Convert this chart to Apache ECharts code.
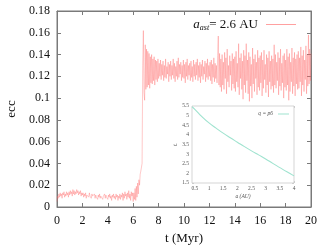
<!DOCTYPE html>
<html><head><meta charset="utf-8">
<script src="https://cdn.jsdelivr.net/npm/echarts@6/dist/echarts.min.js"></script>
<style>html,body{margin:0;padding:0;background:#fff}#c{width:332px;height:245px}</style>
</head><body><div id="c"></div>
<script>
// Main series: eccentricity sampled every 0.05 Myr from t = 0 to 20 Myr (one row per Myr)
const sampleStepMyr = 0.05;
const ecc = [
0.005,0.010,0.008,0.012,0.009,0.013,0.010,0.012,0.008,0.013,0.011,0.014,0.009,0.012,0.010,0.014,0.011,0.013,0.009,0.014,
0.011,0.015,0.012,0.014,0.010,0.016,0.012,0.015,0.011,0.014,0.012,0.016,0.013,0.015,0.011,0.014,0.012,0.015,0.010,0.013,
0.011,0.013,0.009,0.012,0.010,0.013,0.008,0.011,0.010,0.012,0.009,0.013,0.010,0.011,0.008,0.012,0.010,0.011,0.009,0.012,
0.008,0.011,0.009,0.010,0.007,0.011,0.009,0.012,0.008,0.010,0.009,0.011,0.007,0.010,0.009,0.012,0.008,0.011,0.009,0.010,
0.007,0.011,0.009,0.012,0.008,0.010,0.006,0.011,0.009,0.012,0.008,0.010,0.007,0.012,0.009,0.011,0.006,0.010,0.008,0.012,
0.007,0.011,0.009,0.013,0.006,0.012,0.008,0.014,0.010,0.012,0.007,0.013,0.009,0.015,0.008,0.012,0.006,0.014,0.010,0.013,
0.005,0.013,0.007,0.017,0.006,0.019,0.009,0.022,0.012,0.025,0.020,0.030,0.033,0.034,0.040,0.130,0.162,0.105,0.098,0.149,
0.108,0.145,0.110,0.143,0.112,0.141,0.109,0.138,0.114,0.140,0.113,0.136,0.116,0.138,0.112,0.135,0.117,0.134,0.115,0.136,
0.118,0.132,0.120,0.135,0.117,0.131,0.121,0.134,0.116,0.130,0.119,0.136,0.118,0.129,0.122,0.133,0.115,0.131,0.120,0.134,
0.117,0.130,0.121,0.136,0.118,0.132,0.115,0.129,0.120,0.134,0.117,0.137,0.119,0.131,0.122,0.133,0.116,0.130,0.119,0.135,
0.118,0.131,0.114,0.133,0.120,0.136,0.117,0.130,0.121,0.132,0.116,0.134,0.119,0.129,0.115,0.135,0.120,0.131,0.117,0.133,
0.121,0.136,0.116,0.130,0.119,0.133,0.114,0.131,0.120,0.135,0.117,0.129,0.122,0.134,0.115,0.132,0.119,0.136,0.117,0.130,
0.120,0.133,0.116,0.135,0.113,0.131,0.119,0.137,0.115,0.132,0.118,0.130,0.114,0.139,0.157,0.112,0.141,0.110,0.136,0.106,
0.140,0.112,0.133,0.108,0.142,0.118,0.137,0.104,0.145,0.115,0.130,0.110,0.139,0.121,0.134,0.107,0.141,0.113,0.136,0.109,
0.138,0.106,0.143,0.115,0.132,0.110,0.150,0.103,0.137,0.118,0.141,0.108,0.134,0.099,0.144,0.112,0.139,0.105,0.150,0.116,
0.135,0.104,0.142,0.097,0.138,0.111,0.131,0.100,0.146,0.113,0.136,0.106,0.140,0.118,0.133,0.103,0.144,0.110,0.137,0.107,
0.139,0.114,0.142,0.102,0.135,0.109,0.144,0.117,0.131,0.105,0.140,0.112,0.137,0.101,0.143,0.115,0.134,0.108,0.139,0.111,
0.136,0.105,0.149,0.112,0.140,0.109,0.133,0.116,0.142,0.103,0.137,0.111,0.145,0.107,0.132,0.114,0.139,0.100,0.141,0.110,
0.135,0.107,0.145,0.112,0.138,0.098,0.141,0.106,0.133,0.115,0.146,0.104,0.137,0.111,0.142,0.102,0.136,0.113,0.140,0.108,
0.143,0.109,0.137,0.115,0.147,0.102,0.139,0.112,0.144,0.106,0.135,0.117,0.148,0.104,0.140,0.111,0.158,0.113,0.145,0.116,
0.141
];
// Inset series
const insetA = [0.4,0.5,0.75,1,1.25,1.5,1.75,2,2.25,2.5,2.75,3,3.25,3.5,3.75,4];
const insetVal = [5.46,5.33,4.95,4.62,4.35,4.09,3.85,3.62,3.39,3.17,2.96,2.75,2.52,2.30,2.08,1.87];
const insetXTicks = [0.5,1,1.5,2,2.5,3,3.5,4];

const mainData = ecc.map((e,i)=>[+(i*sampleStepMyr).toFixed(2), e]);
const serif = 'Liberation Serif';
const chart = echarts.init(document.getElementById('c'));
const border = '#7a7a7a';
const inBorder = '#b8b8b8';
function mainAxisCommon(){
  return {axisLine:{show:true,onZero:false,lineStyle:{color:border,width:1}},axisTick:{show:true,inside:true,length:4,lineStyle:{color:border}},splitLine:{show:false}};
}
function insetTick(extra){
  return Object.assign({show:true,inside:true,length:2,lineStyle:{color:inBorder,width:0.6}},extra||{});
}
chart.setOption({
  animation:false,
  grid:[
    {left:57,right:21,top:11,bottom:38,show:true,borderColor:border,borderWidth:1,backgroundColor:'transparent',outerBoundsMode:'none',containLabel:false},
    {left:192,right:38,top:106,bottom:62,show:true,backgroundColor:'#fff',borderColor:inBorder,borderWidth:0.6,z:5,outerBoundsMode:'none',containLabel:false}
  ],
  legend:[
    {data:['main'],right:31,top:13,align:'right',itemWidth:30,itemHeight:8,itemGap:0,
     icon:'path://M0,0 L30,0 L30,1 L0,1 Z',
     textStyle:{fontFamily:serif,fontSize:13,color:'#111',padding:[0,3,0,0],
       rich:{i:{fontFamily:serif,fontStyle:'italic',fontSize:13},
             s:{fontFamily:serif,fontStyle:'italic',fontSize:8,padding:[7,0,0,0]},
             n:{fontFamily:serif,fontSize:13}}},
     formatter:function(){return '{i|a}{s|ast}{n|= 2.6 AU}';}},
    {data:['inset'],right:38,top:106,align:'right',itemWidth:11,itemHeight:4,itemGap:0,z:10,
     icon:'path://M0,0 L11,0 L11,1 L0,1 Z',
     textStyle:{fontFamily:serif,fontSize:5.5,fontStyle:'italic',color:'#555'},
     formatter:function(){return 'q = p6';}}
  ],
  xAxis:[
    Object.assign(mainAxisCommon(),{type:'value',gridIndex:0,min:0,max:20,interval:2,position:'bottom',
      name:'t (Myr)',nameLocation:'middle',nameGap:24,nameTextStyle:{fontFamily:serif,fontSize:13,color:'#111'},
      axisLabel:{fontFamily:serif,fontSize:12,color:'#111',margin:8}}),
    Object.assign(mainAxisCommon(),{type:'value',gridIndex:0,min:0,max:20,interval:2,position:'top',axisLabel:{show:false}}),
    {type:'value',gridIndex:1,min:0.4,max:4,position:'bottom',
      axisLine:{show:false,onZero:false},splitLine:{show:false},
      axisTick:insetTick({customValues:insetXTicks}),
      axisLabel:{show:true,customValues:insetXTicks,fontFamily:serif,fontSize:5.5,color:'#555',margin:3},
      name:'a (AU)',nameLocation:'middle',nameGap:11,nameTextStyle:{fontFamily:serif,fontSize:5.5,fontStyle:'italic',color:'#555'}},
    {type:'value',gridIndex:1,min:0.4,max:4,position:'top',
      axisLine:{show:false,onZero:false},splitLine:{show:false},
      axisTick:insetTick({customValues:insetXTicks}),
      axisLabel:{show:false}}
  ],
  yAxis:[
    Object.assign(mainAxisCommon(),{type:'value',gridIndex:0,min:0,max:0.18,interval:0.02,position:'left',
      name:'ecc',nameLocation:'middle',nameGap:39,nameTextStyle:{fontFamily:serif,fontSize:13,color:'#111'},
      axisLabel:{fontFamily:serif,fontSize:12,color:'#111',margin:7,formatter:v=>String(+v.toFixed(2))}}),
    Object.assign(mainAxisCommon(),{type:'value',gridIndex:0,min:0,max:0.18,interval:0.02,position:'right',axisLabel:{show:false}}),
    {type:'value',gridIndex:1,min:1.5,max:5.5,interval:0.5,position:'left',
      axisLine:{show:false,onZero:false},splitLine:{show:false},
      axisTick:insetTick(),
      axisLabel:{fontFamily:serif,fontSize:5.5,color:'#555',margin:3},
      name:'t\u1d63',nameLocation:'middle',nameGap:13,nameTextStyle:{fontFamily:serif,fontSize:6,fontStyle:'italic',color:'#555'}},
    {type:'value',gridIndex:1,min:1.5,max:5.5,interval:0.5,position:'right',
      axisLine:{show:false,onZero:false},splitLine:{show:false},
      axisTick:insetTick(),
      axisLabel:{show:false}}
  ],
  series:[
    {name:'main',type:'line',xAxisIndex:0,yAxisIndex:0,showSymbol:false,symbol:'none',
     data:mainData,
     lineStyle:{color:'rgba(255,100,100,0.5)',width:0.7},itemStyle:{color:'rgba(255,160,160,1)'},z:2},
    {name:'inset',type:'line',xAxisIndex:2,yAxisIndex:2,showSymbol:false,symbol:'none',smooth:true,
     data:insetA.map((a,i)=>[a,insetVal[i]]),
     lineStyle:{color:'#9fe3cf',width:1.1},itemStyle:{color:'#9fe3cf'},z:6}
  ]
});
</script></body></html>
